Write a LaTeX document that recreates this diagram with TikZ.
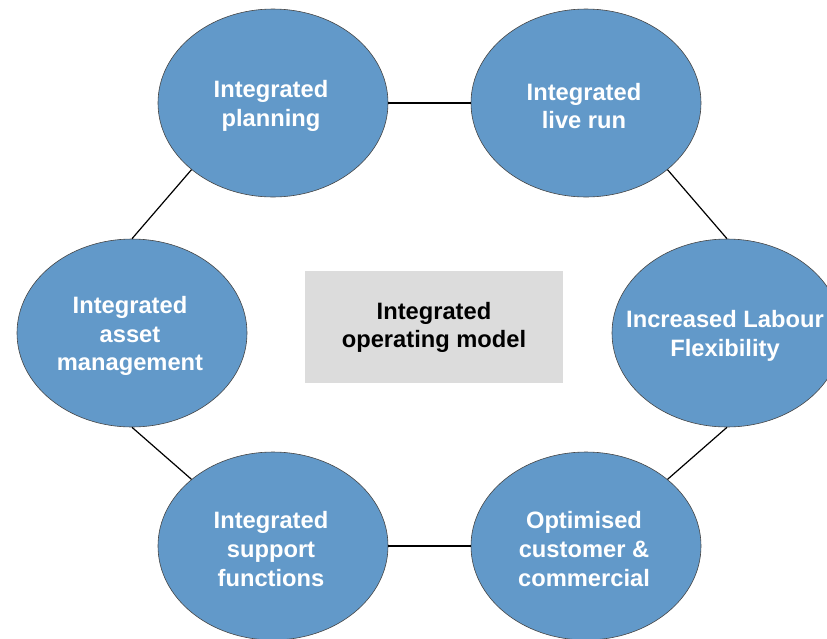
\documentclass[tikz,border=0pt]{standalone}
\usepackage{fontspec}
\setmainfont{Liberation Sans}
\usetikzlibrary{shapes.geometric}

\definecolor{blobblue}{RGB}{98,153,201}
\definecolor{blobedge}{RGB}{70,70,70}
\definecolor{coregray}{RGB}{220,220,220}

\begin{document}
\begin{tikzpicture}[x=1pt, y=-1pt,
        blob/.style={ellipse, draw=blobedge, line width=0.6pt, fill=blobblue,
                     minimum width=230pt, minimum height=188pt, inner sep=0pt},
        blobtxt/.style={text=white, align=center, inner sep=0pt,
                        xshift=-2pt, yshift=-3pt,
                        font=\bfseries\fontsize{23.7}{28.7}\selectfont},
        core/.style={rectangle, fill=coregray, minimum width=258pt,
                     minimum height=112pt, align=center, inner sep=0pt,
                     font=\bfseries\fontsize{23.7}{28}\selectfont},
        link/.style={line width=1.2pt, black}]
      \useasboundingbox (0,0) rectangle (827,638);
      % six ellipses around the centre box
      \node[blob, label={[blobtxt]center:Integrated\\planning}] (plan) at (273,103) {};
      \node[blob, label={[blobtxt]center:Integrated\\live run}] (live) at (586,103) {};
      \node[blob, label={[blobtxt]center:Increased Labour\\Flexibility}] (labour) at (727,333) {};
      \node[blob, label={[blobtxt]center:Optimised\\customer \&\\commercial}] (cust) at (586,546) {};
      \node[blob, label={[blobtxt]center:Integrated\\support\\functions}] (supp) at (273,546) {};
      \node[blob, label={[blobtxt]center:Integrated\\asset\\management}] (asset) at (132,333) {};
      \node[core] (model) at (434,327) {\raisebox{-3pt}{\parbox{250pt}{\centering Integrated\\operating model}}};
      % ring of connectors
      \draw[link] (plan.east) -- (live.west);
      \draw[link] (live.south east) -- (labour.north);
      \draw[link] (labour.south) -- (cust.north east);
      \draw[link] (cust.west) -- (supp.east);
      \draw[link] (supp.north west) -- (asset.south);
      \draw[link] (asset.north) -- (plan.south west);
    \end{tikzpicture}
\end{document}
